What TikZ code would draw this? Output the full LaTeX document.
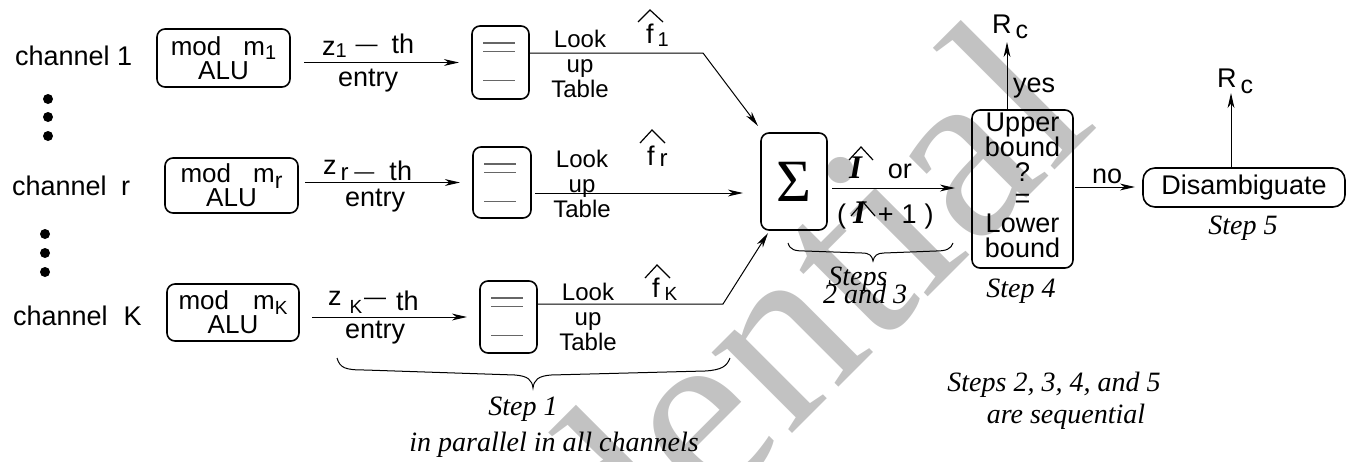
\documentclass[tikz,border=0pt]{standalone}
\usepackage{fontspec}
\setmainfont{Liberation Sans}
\newfontfamily\tms{Liberation Serif}
\usetikzlibrary{arrows.meta,calc}
\newcommand\lsub[3][10]{\raisebox{-#2}{\fontsize{#1}{#1}\selectfont #3}}
\newcommand\bI{{\tms\bfseries\itshape\fontsize{16.5}{16.5}\selectfont I}}
\begin{document}
\begin{tikzpicture}[x=0.5pt,y=-0.5pt,
  every node/.style={inner sep=0pt, outer sep=0pt},
  txt/.style={font=\fontsize{13.5}{16}\selectfont},
  lab/.style={font=\fontsize{12}{12.5}\selectfont, align=center, anchor=north},
  it/.style={font=\tms\itshape\fontsize{14}{16}\selectfont},
  rbox/.style={draw, rounded corners=4pt, line width=0.8pt},
  arr/.style={line width=0.5pt, -{Stealth[length=7.5pt,width=3.4pt,inset=2.2pt]}},
  ln/.style={line width=0.5pt},
  innerln/.style={line width=0.6pt, black!60},
  hatln/.style={line width=0.6pt},
  dotc/.style={circle, fill, minimum size=5pt}
]
\useasboundingbox (0,0) rectangle (1358,461);
% watermark
\begin{scope}
\clip (0,0) rectangle (1358,461);
\node[font=\tms\fontsize{124}{124}\selectfont, text=black!24, rotate=45, anchor=base west] (wm) at (223,1002) {Confidential};
\end{scope}

% channel labels and dots
\node[txt, anchor=base west] (ch1) at (15,65) {channel 1};
\node[txt, anchor=base west] (chr) at (12,195) {channel\hspace{3.5pt} r};
\node[txt, anchor=base west] (chK) at (13,325) {channel\hspace{4.25pt} K};
\node[dotc] (da1) at (48,99) {};
\node[dotc] (da2) at (48,117) {};
\node[dotc] (da3) at (48,136) {};
\node[dotc] (db1) at (45,234) {};
\node[dotc] (db2) at (45,253) {};
\node[dotc] (db3) at (45,272) {};

% mod ALU boxes
\node[rbox, minimum width=66.5pt, minimum height=29pt, align=center, font=\fontsize{13}{12}\selectfont] (mod1) at (223.5,58) {mod\hspace{11pt}m\lsub{2pt}{1}\\ALU};
\node[rbox, minimum width=66.5pt, minimum height=27.5pt, align=center, font=\fontsize{13}{12}\selectfont] (modr) at (231.5,185.5) {mod\hspace{11pt}m\lsub[11.5]{3pt}{r}\\ALU};
\node[rbox, minimum width=66pt, minimum height=28.5pt, align=center, font=\fontsize{13}{12}\selectfont] (modK) at (233,312.5) {mod\hspace{12pt}m\lsub[9.5]{2.5pt}{K}\\ALU};

% entry labels
\node[txt, anchor=base west] (z1) at (322,53) {\raisebox{-1pt}{z}\lsub{2pt}{1}\hspace{4.5pt}\raisebox{1pt}{\fontsize{11}{11}\selectfont —}\hspace{7pt}th};
\node[txt, anchor=base west] (zr) at (323,180) {\raisebox{3pt}{z}\hspace{2pt}\lsub[12]{0pt}{r}\hspace{3pt}\raisebox{1pt}{\fontsize{10}{10}\selectfont —}\hspace{7.5pt}th};
\node[txt, anchor=base west] (zK) at (328,310) {\raisebox{2.5pt}{z}\hspace{4pt}\lsub[9.5]{1.5pt}{K}\hspace{1pt}\raisebox{3pt}{\fontsize{11}{11}\selectfont —}\hspace{5pt}th};
\node[txt, anchor=base west] (e1) at (338,86) {entry};
\node[txt, anchor=base west] (er) at (345,206) {entry};
\node[txt, anchor=base west] (eK) at (345,338) {entry};

% look-up tables
\node[rbox, minimum width=28.5pt, minimum height=36.5pt] (lut1) at (500.5,62.5) {};
\node[rbox, minimum width=29pt, minimum height=35.5pt] (lutr) at (502,182.5) {};
\node[rbox, minimum width=28.5pt, minimum height=36pt] (lutK) at (508.5,317) {};
\foreach \n in {lut1,lutr,lutK}{
  \draw[innerln] ($(\n.north west)+(11,17)$) -- ++(32,0);
  \draw[innerln] ($(\n.north west)+(11,25.5)$) -- ++(32,0);
  \draw[innerln] ($(\n.north west)+(11,54.5)$) -- ++(32,0);
}
\node[lab] (tab1) at (580,30) {Look\\up\\Table};
\node[lab] (tabr) at (582,150) {Look\\up\\Table};
\node[lab] (tabK) at (588,283) {Look\\up\\Table};

% f hats
\node[txt, anchor=base west] (f1) at (646,43) {f\hspace{2pt}\lsub{1.5pt}{1}};
\node[txt, anchor=base west] (fr) at (647,165) {f\hspace{2.5pt}\lsub[12]{0.5pt}{r}};
\node[txt, anchor=base west] (fK) at (652,297) {f\hspace{2.5pt}\lsub[9.5]{1.5pt}{K}};
\draw[hatln] (638,22) -- (650,10) -- (663,22);
\draw[hatln] (640,143) -- (652,130) -- (665,143);
\draw[hatln] (645,278) -- (657,265) -- (670,278);

% sum
\node[rbox, minimum width=33pt, minimum height=48.5pt, font=\tms\fontsize{30}{30}\selectfont] (sum) at (794,181.5) {Σ};

% upper/lower bound
\node[rbox, minimum width=50.5pt, minimum height=79pt] (ub) at (1022.5,189) {};
\node[txt, align=center, font=\fontsize{13.5}{12.6}\selectfont] (ubt) at ([yshift=1.85pt]ub.center) {Upper\\bound\\?\\=\\Lower\\bound};

% disambiguate
\node[rbox, rounded corners=6pt, minimum width=101pt, minimum height=19.5pt, txt] (dis) at (1244,187.5) {Disambiguate};

% I labels
\node[txt, anchor=base west] (ia) at (849,178) {\bI\hspace{13pt}or};
\node[txt, anchor=base west] (ib) at (837,223) {(\hspace{3.5pt}\bI\hspace{6pt}+\hspace{4pt}1\hspace{4pt})};
\draw[hatln] (849,160) -- (861,147) -- (873,160);
\draw[hatln] (851,216) -- (863,202) -- (875,216);

% R_c, yes, no
\node[txt, anchor=base west] (rc1) at (992,33) {R\hspace{2pt}\lsub[12.5]{2.5pt}{c}};
\node[txt, anchor=base west] (rc2) at (1217,87) {R\hspace{2pt}\lsub[12.5]{3pt}{c}};
\node[txt, anchor=base west] (yes) at (1013,92) {yes};
\node[txt, anchor=base west] (no) at (1092,183) {no};

% step labels
\node[it, anchor=base] (s5) at (1243,234) {Step 5};
\node[it, anchor=base] (s4) at (1021,297) {Step 4};
\node[it, anchor=base] (s23a) at (858,285) {Steps};
\node[it, anchor=base] (s23b) at (865,303) {2 and 3};
\node[it, anchor=base] (s1a) at (523,415) {Step 1};
\node[it, anchor=base] (s1b) at (554,451) {in parallel in all channels};
\node[it, anchor=base] (seqa) at (1054,391) {Steps 2, 3, 4, and 5};
\node[it, anchor=base] (seqb) at (1066,423) {are sequential};

% connectors
\draw[arr] ([xshift=7pt]mod1.east |- lut1.west) -- ([xshift=-6.5pt]lut1.west);
\draw[arr] ([xshift=3.5pt]modr.east |- lutr.west) -- ([xshift=-6.5pt]lutr.west);
\draw[arr] ([xshift=6.5pt]modK.east |- lutK.west) -- ([xshift=-6.5pt]lutK.west);
\coordinate (b1) at (703,53);
\coordinate (bK) at (723,304);
\coordinate (mr) at (0,193);
\draw[arr] (lut1.east |- b1) -- (b1) -- ($(sum.north west)+(-3,-7)$);
\draw[arr] ([xshift=2pt]lutr.east |- mr) -- ([xshift=-9pt]sum.west |- mr);
\draw[arr] (lutK.east |- bK) -- (bK) -- ($(sum.south west)+(7,3)$);
\coordinate (ms) at (0,188);
\draw[arr] ([xshift=2.5pt]sum.east |- ms) -- ([xshift=-8.5pt]ub.west |- ms);
\coordinate (rca) at (1007,42);
\draw[arr] (ub.north -| rca) -- (rca);
\coordinate (mn) at (0,187);
\draw[arr] ([xshift=1pt]ub.east |- mn) -- ([xshift=-4pt]dis.west |- mn);
\coordinate (rcb) at (1231,93);
\draw[arr] (dis.north -| rcb) -- (rcb);

% braces
\draw[ln] (337,358) .. controls (340,368) and (345,370) .. (365,370) -- (515,375) .. controls (528,376) and (532,380) .. (533,388) .. controls (534,380) and (538,376) .. (551,375) -- (705,371) .. controls (722,370) and (727,366) .. (730,358);
\draw[ln] (788,243) .. controls (790,250) and (795,251) .. (805,251) -- (862,253) .. controls (870,253) and (872,256) .. (873,261) .. controls (874,256) and (877,253) .. (884,253) -- (936,251) .. controls (946,251) and (951,249) .. (953,243);
\end{tikzpicture}
\end{document}
